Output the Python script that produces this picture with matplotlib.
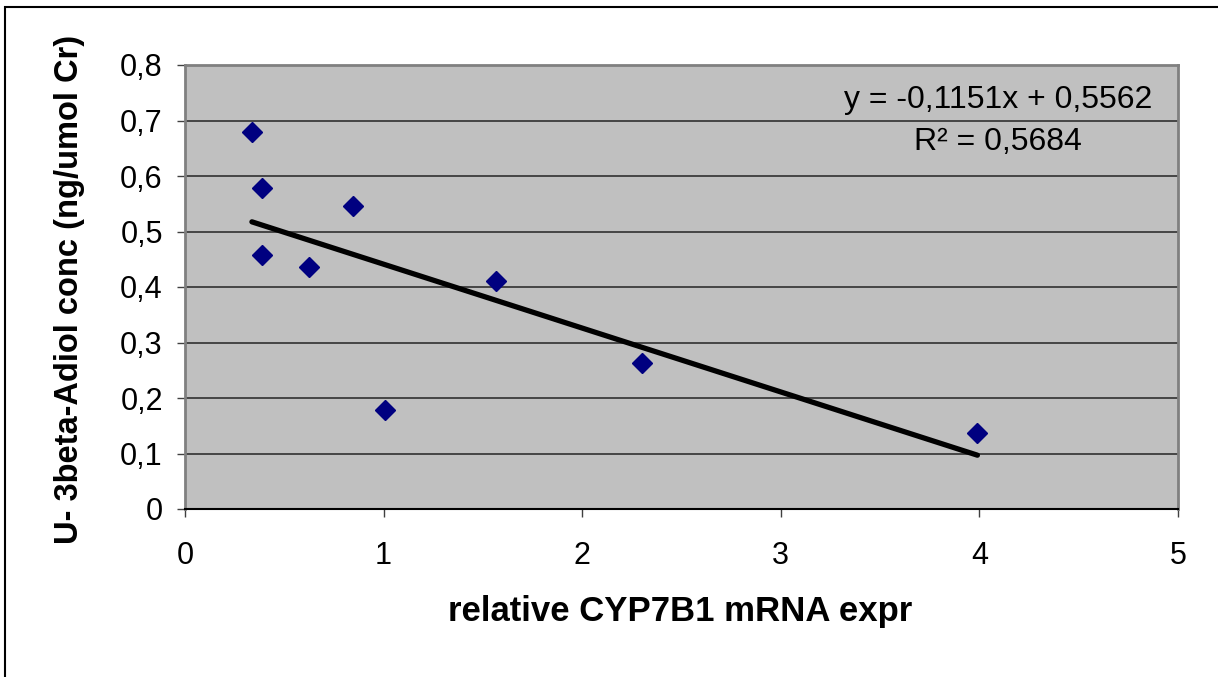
import matplotlib
matplotlib.use("Agg")
import matplotlib.pyplot as plt
from matplotlib.patches import Rectangle
import numpy as np

plt.rcParams['font.family'] = ['Liberation Sans', 'DejaVu Sans']

# Data
cyp7b1_expr = [0.337, 0.388, 0.388, 0.624, 0.846, 1.007, 1.566, 2.30, 3.99]
adiol_conc = [0.679, 0.578, 0.458, 0.436, 0.546, 0.178, 0.411, 0.263, 0.137]
slope = -0.1151
intercept = 0.5562
r_squared = 0.5684
x_ticks = [0, 1, 2, 3, 4, 5]
y_ticks = [0, 0.1, 0.2, 0.3, 0.4, 0.5, 0.6, 0.7, 0.8]
y_tick_labels = ["0", "0,1", "0,2", "0,3", "0,4", "0,5", "0,6", "0,7", "0,8"]


def fmt(v):
    return f"{v:.4f}".replace(".", ",")


W, H = 1218, 677
fig = plt.figure(figsize=(W / 100, H / 100), dpi=100)
fig.patch.set_facecolor("white")

# outer chart frame (extends past right/bottom edges)
fig.patches.append(Rectangle((5 / W, -0.05), 1.2, (H - 7) / H + 0.05,
                             transform=fig.transFigure, fill=False,
                             edgecolor="black", linewidth=1.5))

ax = fig.add_axes([185 / W, (H - 509) / H, (1178 - 185) / W, (509 - 65) / H])
ax.set_facecolor("#C0C0C0")
ax.set_xlim(0, 5)
ax.set_ylim(0, 0.8)

for y in y_ticks[1:]:
    ax.axhline(y, color="#303030", linewidth=1.2, zorder=1)

ax.plot(cyp7b1_expr, adiol_conc, linestyle="none", marker="D", markersize=10.5,
        color="#000080", markeredgecolor="#000080", zorder=3)

xs = np.array([min(cyp7b1_expr), max(cyp7b1_expr)])
ax.plot(xs, slope * xs + intercept, color="black", linewidth=3.8,
        solid_capstyle="round", zorder=2)

ax.set_xticks(x_ticks)
ax.set_xticklabels([str(t) for t in x_ticks])
ax.set_yticks(y_ticks)
ax.set_yticklabels(y_tick_labels)
ax.tick_params(axis="both", direction="out", length=6, width=1, color="#404040",
               labelsize=22)
ax.tick_params(axis="y", pad=10)
ax.tick_params(axis="x", pad=17)

for s in ["top", "right", "left"]:
    ax.spines[s].set_color("#808080")
    ax.spines[s].set_linewidth(2)
ax.spines["bottom"].set_color("black")
ax.spines["bottom"].set_linewidth(1.5)

fig.text(680 / W, 1 - 612 / H, "relative CYP7B1 mRNA expr", fontsize=25,
         fontweight="bold", ha="center", va="center")
fig.text(70 / W, 1 - 289 / H, "U- 3beta-Adiol conc (ng/umol Cr)", fontsize=23.5,
         fontweight="bold", ha="center", va="center", rotation=90)

fig.text(998 / W, 1 - 100 / H, f"y = {fmt(slope)}x + {fmt(intercept)}",
         fontsize=23, ha="center", va="center")
fig.text(998 / W, 1 - 142 / H, f"R\u00b2 = {fmt(r_squared)}",
         fontsize=23, ha="center", va="center")

fig.savefig("out.png", dpi=100)
